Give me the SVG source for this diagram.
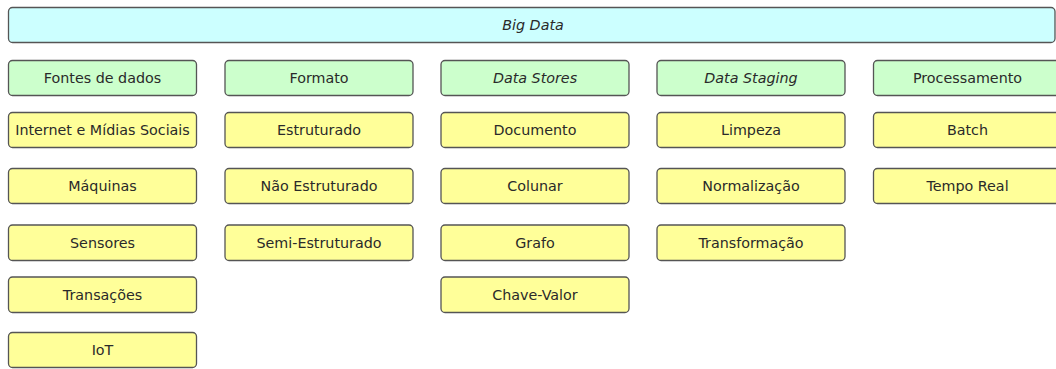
<svg xmlns="http://www.w3.org/2000/svg" width="1056" height="369" viewBox="0 0 1056 369">
  <style>
    .box rect { stroke: #555555; stroke-width: 1.3; }
    .root rect { fill: #ccffff; }
    .cat rect { fill: #ccffcc; }
    .item rect { fill: #ffff99; }
    text { font-family: "DejaVu Sans", Verdana, sans-serif; font-size: 14.3px; fill: #2a2a2a; text-anchor: middle; }
    .it { font-style: italic; }
  </style>

  <!-- root -->
  <g id="big-data" class="box root">
    <rect x="8.5" y="7.5" width="1046.5" height="35" rx="4"/>
    <text class="it" x="533" y="30">Big Data</text>
  </g>

  <!-- categories -->
  <g id="fontes-de-dados" class="box cat">
    <rect x="8.5" y="60.5" width="188" height="35" rx="4"/>
    <text x="102.5" y="83">Fontes de dados</text>
  </g>
  <g id="formato" class="box cat">
    <rect x="225" y="60.5" width="188" height="35" rx="4"/>
    <text x="319" y="83">Formato</text>
  </g>
  <g id="data-stores" class="box cat">
    <rect x="441" y="60.5" width="188" height="35" rx="4"/>
    <text class="it" x="535" y="83">Data Stores</text>
  </g>
  <g id="data-staging" class="box cat">
    <rect x="657" y="60.5" width="188" height="35" rx="4"/>
    <text class="it" x="751" y="83">Data Staging</text>
  </g>
  <g id="processamento" class="box cat">
    <rect x="873.5" y="60.5" width="188" height="35" rx="4"/>
    <text x="967.5" y="83">Processamento</text>
  </g>

  <!-- Fontes de dados -->
  <g id="internet-midias-sociais" class="box item">
    <rect x="8.5" y="112.5" width="188" height="35" rx="4"/>
    <text x="102.5" y="135">Internet e Mídias Sociais</text>
  </g>
  <g id="maquinas" class="box item">
    <rect x="8.5" y="168.5" width="188" height="35" rx="4"/>
    <text x="102.5" y="191">Máquinas</text>
  </g>
  <g id="sensores" class="box item">
    <rect x="8.5" y="225" width="188" height="35.5" rx="4"/>
    <text x="102.5" y="247.5">Sensores</text>
  </g>
  <g id="transacoes" class="box item">
    <rect x="8.5" y="277" width="188" height="35.5" rx="4"/>
    <text x="102.5" y="299.5">Transações</text>
  </g>
  <g id="iot" class="box item">
    <rect x="8.5" y="332.5" width="188" height="35" rx="4"/>
    <text x="102.5" y="355">IoT</text>
  </g>

  <!-- Formato -->
  <g id="estruturado" class="box item">
    <rect x="225" y="112.5" width="188" height="35" rx="4"/>
    <text x="319" y="135">Estruturado</text>
  </g>
  <g id="nao-estruturado" class="box item">
    <rect x="225" y="168.5" width="188" height="35" rx="4"/>
    <text x="319" y="191">Não Estruturado</text>
  </g>
  <g id="semi-estruturado" class="box item">
    <rect x="225" y="225" width="188" height="35.5" rx="4"/>
    <text x="319" y="247.5">Semi-Estruturado</text>
  </g>

  <!-- Data Stores -->
  <g id="documento" class="box item">
    <rect x="441" y="112.5" width="188" height="35" rx="4"/>
    <text x="535" y="135">Documento</text>
  </g>
  <g id="colunar" class="box item">
    <rect x="441" y="168.5" width="188" height="35" rx="4"/>
    <text x="535" y="191">Colunar</text>
  </g>
  <g id="grafo" class="box item">
    <rect x="441" y="225" width="188" height="35.5" rx="4"/>
    <text x="535" y="247.5">Grafo</text>
  </g>
  <g id="chave-valor" class="box item">
    <rect x="441" y="277" width="188" height="35.5" rx="4"/>
    <text x="535" y="299.5">Chave-Valor</text>
  </g>

  <!-- Data Staging -->
  <g id="limpeza" class="box item">
    <rect x="657" y="112.5" width="188" height="35" rx="4"/>
    <text x="751" y="135">Limpeza</text>
  </g>
  <g id="normalizacao" class="box item">
    <rect x="657" y="168.5" width="188" height="35" rx="4"/>
    <text x="751" y="191">Normalização</text>
  </g>
  <g id="transformacao" class="box item">
    <rect x="657" y="225" width="188" height="35.5" rx="4"/>
    <text x="751" y="247.5">Transformação</text>
  </g>

  <!-- Processamento -->
  <g id="batch" class="box item">
    <rect x="873.5" y="112.5" width="188" height="35" rx="4"/>
    <text x="967.5" y="135">Batch</text>
  </g>
  <g id="tempo-real" class="box item">
    <rect x="873.5" y="168.5" width="188" height="35" rx="4"/>
    <text x="967.5" y="191">Tempo Real</text>
  </g>

  <!-- no connectors in this layout -->
  <g id="connectors"/>
</svg>
